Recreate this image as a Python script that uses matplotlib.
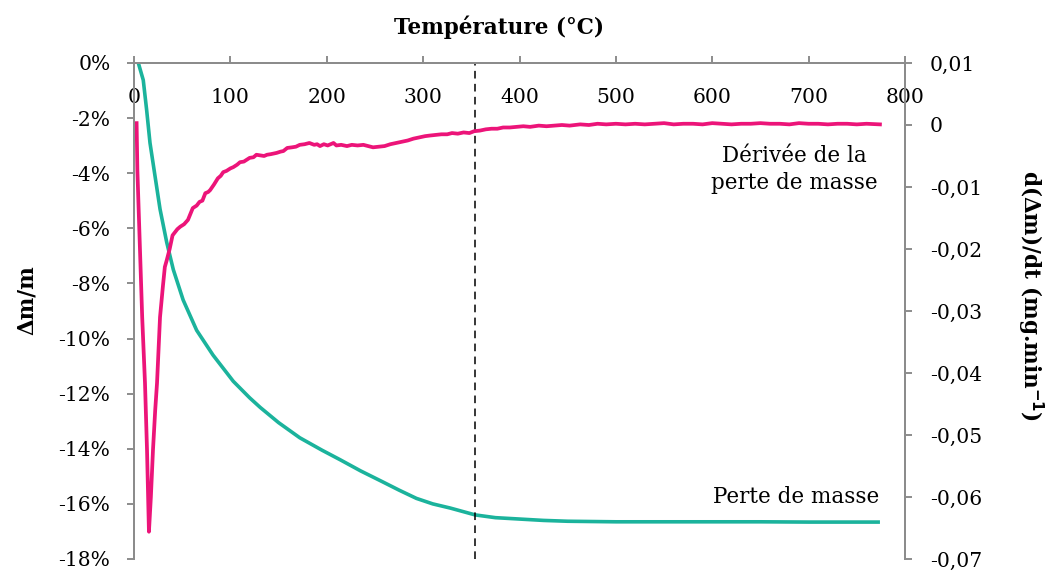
import matplotlib
matplotlib.use("Agg")
import matplotlib.pyplot as plt
from matplotlib.ticker import FuncFormatter, MultipleLocator

# ---- data ----
mass_T = [4.5, 9.6, 13.1, 16.6, 21.8, 27, 33.9, 40.8, 51, 65, 82, 103, 120, 131, 150, 172,
          195, 214, 235, 258, 275, 293, 310, 328, 354, 375, 400, 425, 450, 500, 550, 600,
          650, 700, 774]
mass_pct = [0.0, -0.62, -1.7, -2.9, -4.1, -5.3, -6.5, -7.5, -8.6, -9.7, -10.6, -11.55, -12.15,
            -12.5, -13.05, -13.6, -14.05, -14.4, -14.8, -15.2, -15.5, -15.8, -16.0, -16.15,
            -16.4, -16.5, -16.55, -16.6, -16.63, -16.65, -16.65, -16.65, -16.65, -16.66, -16.66]

deriv_T = [2.7, 3.5, 4.5, 6.2, 8.5, 11.4, 13.5, 15.5, 17.5, 19.7, 22, 23.9, 27, 30, 32, 34,
           37, 40, 42.5, 45, 48, 52, 56, 61, 65, 68, 71, 74, 77, 79, 83, 87, 90, 92.6, 96, 100,
           103, 107, 110, 114, 118, 120, 124, 127, 131, 135, 138, 142, 148, 152, 155, 159, 164,
           168, 172, 177, 182, 187, 190, 193, 197, 201, 207, 210, 215, 221, 226, 232, 238, 243,
           248, 254, 260, 266, 272, 278, 284, 290, 296, 302, 307, 313, 319, 325, 330, 336, 342,
           348, 353, 359, 365, 371, 377, 383, 390, 397, 404, 411, 420, 428, 436, 444, 452, 463,
           472, 481, 490, 500, 510, 520, 530, 540, 550, 560, 570, 580, 590, 600, 610, 620, 630,
           640, 650, 660, 670, 680, 690, 700, 710, 720, 730, 740, 750, 760, 774]
deriv_val = [0.0003, -0.0073, -0.0120, -0.0202, -0.0310, -0.0416, -0.0524, -0.0656, -0.0600,
             -0.0524, -0.0460, -0.0416, -0.0310, -0.0260, -0.0229, -0.0218, -0.0200, -0.0178,
             -0.0173, -0.0168, -0.0164, -0.0160, -0.0153, -0.0134, -0.0130, -0.0124, -0.0122,
             -0.0110, -0.0108, -0.0105, -0.0096, -0.0086, -0.0082, -0.0076, -0.0074, -0.0070,
             -0.0068, -0.0064, -0.0060, -0.0059, -0.0055, -0.0053, -0.0052, -0.0048, -0.0049,
             -0.0050, -0.0048, -0.0047, -0.0045, -0.0043, -0.0042, -0.0037, -0.0036, -0.0035,
             -0.0032, -0.0031, -0.0029, -0.0032, -0.0031, -0.0034, -0.0031, -0.0033, -0.0029,
             -0.0033, -0.0032, -0.0034, -0.0032, -0.0033, -0.0032, -0.0034, -0.0036, -0.0035,
             -0.0034, -0.0031, -0.0029, -0.0027, -0.0025, -0.0022, -0.0020, -0.0018, -0.0017,
             -0.0016, -0.0015, -0.0015, -0.0013, -0.0014, -0.0012, -0.0013, -0.0010, -0.0009,
             -0.0007, -0.0006, -0.0006, -0.0004, -0.0004, -0.0003, -0.0002, -0.0003, -0.0001,
             -0.0002, -0.0001, 0.0000, -0.0001, 0.0001, 0.0000, 0.0002, 0.0001, 0.0002, 0.0001,
             0.0002, 0.0001, 0.0002, 0.0003, 0.0001, 0.0002, 0.0002, 0.0001, 0.0003, 0.0002,
             0.0001, 0.0002, 0.0002, 0.0003, 0.0002, 0.0002, 0.0001, 0.0003, 0.0002, 0.0002,
             0.0001, 0.0002, 0.0002, 0.0001, 0.0002, 0.0001]

x_ticks = [0, 100, 200, 300, 400, 500, 600, 700, 800]
dashed_T = 354

TEAL = "#1BB39C"
PINK = "#EC1479"
GRAY = "#8C8C8C"
FONT = "DejaVu Serif"
FS = 14.6
FSL = 15.5

plt.rcParams['font.family'] = FONT

fig = plt.figure(figsize=(10.5, 5.75), dpi=100)
ax = fig.add_axes([134/1050, 1-559/575, (905-134)/1050, (559-63)/575])
ax2 = ax.twinx()

ax.plot(mass_T, mass_pct, color=TEAL, lw=2.6, solid_capstyle='butt')
ax2.plot(deriv_T, deriv_val, color=PINK, lw=2.7)
ax.axvline(dashed_T, color='black', lw=1.1, ls=(0, (5, 3.5)))

ax.set_xlim(0, 800)
ax.set_ylim(-18, 0)
ax2.set_ylim(-0.07, 0.01)

ax.set_xticks(x_ticks)
ax.yaxis.set_major_locator(MultipleLocator(2))
ax2.yaxis.set_major_locator(MultipleLocator(0.01))
ax.yaxis.set_major_formatter(FuncFormatter(lambda v, p: f"{int(round(v))}%"))

def fmt_r(v, p):
    v = round(v, 2)
    if abs(v) < 1e-9:
        return "0"
    return f"{v:.2f}".replace(".", ",")
ax2.yaxis.set_major_formatter(FuncFormatter(fmt_r))

for a in (ax, ax2):
    for s in a.spines.values():
        s.set_color(GRAY)
        s.set_linewidth(1.4)
    a.spines['bottom'].set_visible(False)

ax.xaxis.tick_top()
ax.tick_params(axis='x', which='both', top=True, bottom=False, labeltop=True,
               labelbottom=False, direction='out', length=5, width=1.4, color=GRAY,
               labelsize=FS, pad=-37)
ax.tick_params(axis='y', direction='out', length=5, width=1.4, color=GRAY,
               labelsize=FS, pad=12)
ax2.tick_params(axis='y', direction='out', length=5, width=1.4, color=GRAY,
                labelsize=FS, pad=13)
ax2.tick_params(axis='x', top=False, bottom=False, labeltop=False, labelbottom=False)
for lab in ax.get_xticklabels():
    lab.set_va('bottom')

fig.text(499/1050, 1-27/575, "Température (°C)", ha='center', va='center',
         fontsize=FSL, fontweight='bold')
fig.text(27/1050, 1-300/575, "Δm/m", ha='center', va='center', rotation=90,
         fontsize=FSL, fontweight='bold')
fig.text(1030/1050, 1-296/575, "d(Δm)/dt (mg.min$^{\\mathbf{-1}}$)", ha='center',
         va='center', rotation=270, fontsize=FSL, fontweight='bold')

ax.text(685, -3.88, "Dérivée de la\nperte de masse", ha='center', va='center',
        fontsize=FSL, linespacing=1.3)
ax.text(687, -15.75, "Perte de masse", ha='center', va='center', fontsize=FSL)

fig.savefig("out.png", dpi=100)
